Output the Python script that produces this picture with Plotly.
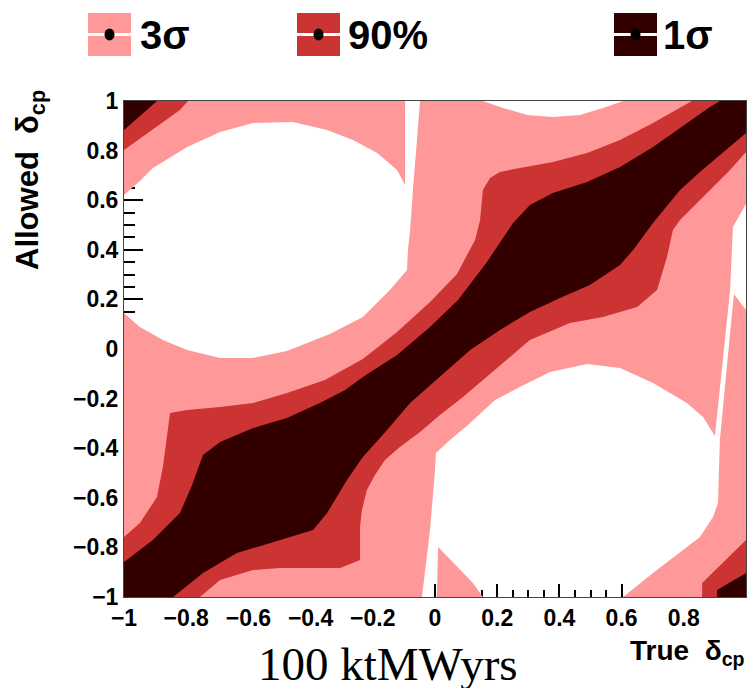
import plotly.graph_objects as go

# ---------------- data ----------------
levels = ["3σ", "90%", "1σ"]
level_colors = ["#ff9999", "#cc3333", "#330000"]

tick_vals = [-1, -0.8, -0.6, -0.4, -0.2, 0, 0.2, 0.4, 0.6, 0.8, 1]
tick_text = ["−1", "−0.8", "−0.6", "−0.4", "−0.2", "0", "0.2", "0.4", "0.6", "0.8", "1"]

# regions outside the 3σ contour (true δcp, allowed δcp; units of π)
out1_x = [-1, -0.949, -0.907, -0.797, -0.691, -0.585, -0.457, -0.347, -0.264, -0.186, -0.122,
          -0.096, -0.096, -0.048, -0.071, -0.080, -0.087, -0.090, -0.145, -0.232, -0.338, -0.402,
          -0.476, -0.585, -0.691, -0.797, -0.875, -0.949, -1]
out1_y = [0.621, 0.677, 0.730, 0.815, 0.875, 0.911, 0.915, 0.883, 0.843, 0.790, 0.722,
          0.661, 1, 1, 0.641, 0.480, 0.399, 0.319, 0.238, 0.129, 0.060, 0.028,
          -0.008, -0.036, -0.036, -0.004, 0.036, 0.089, 0.145]

out2_x = [-0.042, -0.016, 0, 0.003, 0.048, 0.106, 0.193, 0.273, 0.370, 0.489, 0.595, 0.701,
          0.810, 0.862, 0.900, 0.926, 0.949, 0.958, 1, 1, 0.961, 0.939, 0.916, 0.910, 0.894,
          0.852, 0.810, 0.701, 0.605, 0.154, 0.122, 0.071, 0.010, 0.006]
out2_y = [-1, -0.730, -0.488, -0.419, -0.367, -0.306, -0.206, -0.153, -0.093, -0.060, -0.077,
          -0.137, -0.218, -0.274, -0.351, -0.044, 0.238, 0.492, 0.585, 0.157, 0.222, -0.065,
          -0.367, -0.621, -0.677, -0.758, -0.798, -0.903, -1, -1, -0.944, -0.879, -0.798, -1]

out3_x = [0.154, 0.219, 0.296, 0.379, 0.466, 0.540, 0.605]
out3_y = [1, 0.972, 0.944, 0.935, 0.944, 0.972, 1]

# 90% CL region: diagonal band plus the two wrapped corners
cl90_band_x = [-1, -0.949, -0.894, -0.875, -0.852, -0.797, -0.691, -0.585, -0.476, -0.354, -0.232,
               -0.122, -0.016, 0.071, 0.103, 0.129, 0.145, 0.154, 0.177, 0.209, 0.273, 0.379,
               0.489, 0.595, 0.701, 0.826, 1, 1,
               0.949, 0.852, 0.788, 0.765, 0.746, 0.714, 0.650, 0.540, 0.434, 0.305, 0.199,
               0.090, 0.016, -0.048, -0.113, -0.161, -0.193, -0.219, -0.235, -0.241, -0.241,
               -0.305, -0.498, -0.585, -0.691, -0.756, -1]
cl90_band_y = [-0.758, -0.702, -0.597, -0.476, -0.258, -0.246, -0.234, -0.218, -0.177, -0.125, -0.040,
               0.069, 0.190, 0.302, 0.379, 0.440, 0.520, 0.641, 0.690, 0.714, 0.730, 0.754,
               0.790, 0.843, 0.911, 1, 1, 0.794,
               0.722, 0.601, 0.520, 0.480, 0.371, 0.238, 0.169, 0.129, 0.105, 0.036, -0.077,
               -0.194, -0.266, -0.335, -0.395, -0.448, -0.508, -0.569, -0.649, -0.718, -0.851,
               -0.883, -0.883, -0.891, -0.931, -1, -1]
cl90_tl_x = [-1, -0.794, -0.820, -1]
cl90_tl_y = [1, 1, 0.964, 0.802]
cl90_br_x = [1, 0.859, 0.859, 1]
cl90_br_y = [-0.770, -0.944, -1, -1]

# 1σ region
s1_band_x = [-1, -0.907, -0.820, -0.781, -0.746, -0.691, -0.585, -0.476, -0.370, -0.289, -0.232,
             -0.122, -0.016, 0.074, 0.167, 0.251, 0.305, 0.379, 0.489, 0.595, 0.701, 0.810,
             0.884, 0.916, 1, 1,
             0.926, 0.852, 0.788, 0.701, 0.637, 0.595, 0.498, 0.402, 0.305, 0.209, 0.113,
             0.016, -0.080, -0.154, -0.232, -0.283, -0.347, -0.392, -0.498, -0.637, -0.746,
             -0.842, -1]
s1_band_y = [-0.859, -0.770, -0.661, -0.548, -0.427, -0.375, -0.319, -0.278, -0.218, -0.165, -0.113,
             -0.024, 0.089, 0.198, 0.351, 0.508, 0.581, 0.629, 0.673, 0.734, 0.815, 0.911,
             0.976, 1, 1, 0.871,
             0.794, 0.714, 0.641, 0.508, 0.399, 0.339, 0.258, 0.206, 0.149, 0.077, -0.004,
             -0.113, -0.218, -0.327, -0.435, -0.528, -0.661, -0.730, -0.770, -0.823, -0.903,
             -1, -1]
s1_tl_x = [-1, -0.894, -1]
s1_tl_y = [1, 1, 0.883]
s1_br_x = [1, 0.907, 0.907, 1]
s1_br_y = [-0.903, -0.972, -1, -1]


# ---------------- helpers ----------------
def signed_area(xs, ys):
    n = len(xs)
    return 0.5 * sum(xs[i] * ys[(i + 1) % n] - xs[(i + 1) % n] * ys[i] for i in range(n))


def oriented(xs, ys, ccw):
    a = signed_area(xs, ys)
    if (a > 0) != ccw:
        return xs[::-1], ys[::-1]
    return list(xs), list(ys)


def join(parts):
    X, Y = [], []
    for i, (xs, ys) in enumerate(parts):
        if i:
            X.append(None)
            Y.append(None)
        X += list(xs) + [xs[0]]
        Y += list(ys) + [ys[0]]
    return X, Y


fig = go.Figure()

# 3σ: full square with the excluded islands cut out (opposite winding)
frame = oriented([-1, 1, 1, -1], [-1, -1, 1, 1], True)
holes = [oriented(a, b, False) for a, b in [(out1_x, out1_y), (out2_x, out2_y), (out3_x, out3_y)]]
px, py = join([frame] + holes)
fig.add_trace(go.Scatter(x=px, y=py, mode="lines", fill="toself", fillcolor=level_colors[0],
                         line=dict(width=0, color=level_colors[0]), hoverinfo="skip",
                         showlegend=False))

rx, ry = join([(cl90_band_x, cl90_band_y), (cl90_tl_x, cl90_tl_y), (cl90_br_x, cl90_br_y)])
fig.add_trace(go.Scatter(x=rx, y=ry, mode="lines", fill="toself", fillcolor=level_colors[1],
                         line=dict(width=0, color=level_colors[1]), hoverinfo="skip",
                         showlegend=False))

dx, dy = join([(s1_band_x, s1_band_y), (s1_tl_x, s1_tl_y), (s1_br_x, s1_br_y)])
fig.add_trace(go.Scatter(x=dx, y=dy, mode="lines", fill="toself", fillcolor=level_colors[2],
                         line=dict(width=0, color=level_colors[2]), hoverinfo="skip",
                         showlegend=False))

W, H = 749, 688
ML, MR, MT, MB = 124, 3, 101, 91


def pxx(v):
    return (v - ML) / (W - ML - MR)


def pxy(v):
    return (H - MB - v) / (H - MT - MB)


# ---------------- legend (box, white line, black marker) ----------------
legend_box_left = [88, 297, 614]
legend_text_left = [138, 346, 661]
box_w, box_top, box_bot = 43, 13, 56
mid = (box_top + box_bot) / 2
shapes = []
annotations = []
for lab, col, bl, tl in zip(levels, level_colors, legend_box_left, legend_text_left):
    shapes.append(dict(type="rect", xref="paper", yref="paper", x0=pxx(bl), x1=pxx(bl + box_w),
                       y0=pxy(box_bot), y1=pxy(box_top), fillcolor=col, line=dict(width=0)))
    shapes.append(dict(type="line", xref="paper", yref="paper", x0=pxx(bl), x1=pxx(bl + box_w),
                       y0=pxy(mid), y1=pxy(mid), line=dict(color="white", width=3)))
    cx = bl + box_w / 2
    shapes.append(dict(type="circle", xref="paper", yref="paper", x0=pxx(cx - 5), x1=pxx(cx + 5),
                       y0=pxy(mid + 6), y1=pxy(mid - 6), fillcolor="black",
                       line=dict(width=0)))
    annotations.append(dict(text="<b>%s</b>" % lab, xref="paper", yref="paper", x=pxx(tl),
                            y=pxy(mid + 1), xanchor="left", yanchor="middle", showarrow=False,
                            font=dict(family="Liberation Sans", size=40, color="black")))

# axis titles
annotations.append(dict(text="<b>Allowed  δ<sub>cp</sub></b>", xref="paper", yref="paper",
                        x=pxx(30), y=pxy(180), textangle=-90, showarrow=False,
                        xanchor="center", yanchor="middle",
                        font=dict(family="Liberation Sans", size=31, color="black")))
annotations.append(dict(text="<b>True  δ<sub>cp</sub></b>", xref="paper", yref="paper",
                        x=pxx(747), y=pxy(652), xanchor="right", yanchor="middle",
                        showarrow=False,
                        font=dict(family="Liberation Sans", size=28, color="black")))
annotations.append(dict(text="100 ktMWyrs", xref="paper", yref="paper",
                        x=pxx(388), y=pxy(664), xanchor="center", yanchor="middle",
                        showarrow=False,
                        font=dict(family="Liberation Serif", size=47, color="black")))

axis_common = dict(range=[-1, 1], tickvals=tick_vals, ticktext=tick_text, ticks="inside",
                   tickcolor="black", tickwidth=2, showgrid=False, zeroline=False,
                   showline=True, linecolor="#444444", linewidth=1, mirror=True,
                   layer="below traces",
                   tickfont=dict(family="Liberation Sans", size=23, color="black",
                                 weight="bold"))

fig.update_layout(
    width=W, height=H,
    margin=dict(l=ML, r=MR, t=MT, b=MB),
    paper_bgcolor="white", plot_bgcolor="white",
    showlegend=False,
    shapes=shapes, annotations=annotations,
    xaxis=dict(**axis_common, ticklen=13,
               minor=dict(ticks="inside", ticklen=7, dtick=0.05, tick0=0,
                          tickcolor="black", tickwidth=2)),
    yaxis=dict(**axis_common, ticklen=19,
               minor=dict(ticks="inside", ticklen=11, dtick=0.05, tick0=0,
                          tickcolor="black", tickwidth=2)),
)

fig.write_html("out.html")
